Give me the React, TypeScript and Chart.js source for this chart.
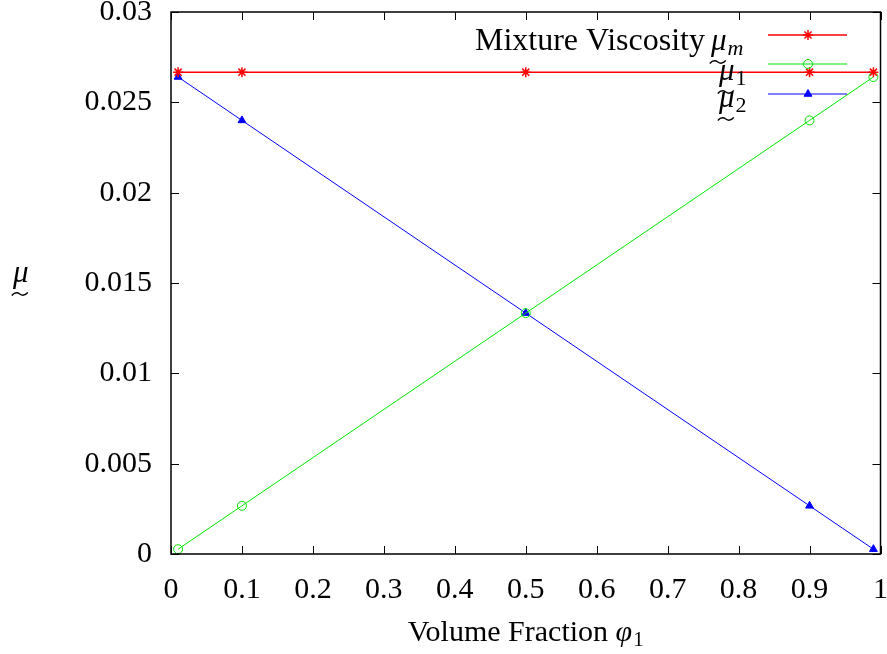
import React, { useEffect, useRef } from "react";
import { Chart, registerables } from "chart.js";
import { drawPoint } from "chart.js/helpers";

Chart.register(...registerables);

// Volume fraction of phase 1
const phi = [0.01, 0.1, 0.5, 0.9, 0.99];
// Viscosities
const mixtureViscosity = [0.02667, 0.02667, 0.02667, 0.02667, 0.02667];
const mu1 = [0.000267, 0.002667, 0.013333, 0.024, 0.026403];
const mu2 = [0.026403, 0.024, 0.013333, 0.002667, 0.000267];

const xTicks = [0, 0.1, 0.2, 0.3, 0.4, 0.5, 0.6, 0.7, 0.8, 0.9, 1];
const yTicks = [0, 0.005, 0.01, 0.015, 0.02, 0.025, 0.03];

const SERIF = "'Liberation Serif', 'Times New Roman', serif";
const RED = "#ff0000";
const GREEN = "#00e600";
const BLUE = "#0000ff";

function drawTilde(ctx: CanvasRenderingContext2D, cx: number, cy: number, w: number) {
  const x0 = cx - w / 2;
  const x1 = cx + w / 2;
  ctx.save();
  ctx.strokeStyle = "#000";
  ctx.lineWidth = 1.4;
  ctx.beginPath();
  ctx.moveTo(x0, cy + 1.5);
  ctx.quadraticCurveTo(x0 + w / 4, cy - 3, cx, cy);
  ctx.quadraticCurveTo(x1 - w / 4, cy + 3, x1, cy - 1.5);
  ctx.stroke();
  ctx.restore();
}

// Italic mu with tilde underneath and a subscript
function drawMu(ctx: CanvasRenderingContext2D, x: number, baseline: number, sub: string) {
  ctx.save();
  ctx.fillStyle = "#000";
  ctx.textAlign = "left";
  ctx.textBaseline = "alphabetic";
  ctx.font = `italic 31px ${SERIF}`;
  ctx.fillText("μ", x, baseline);
  const w = ctx.measureText("μ").width;
  drawTilde(ctx, x + w / 2 - 1, baseline + 12, 16);
  if (sub) {
    const isNum = /\d/.test(sub);
    ctx.font = `${isNum ? "" : "italic "}22px ${SERIF}`;
    ctx.fillText(sub, x + w + 1, baseline + 5);
  }
  ctx.restore();
}

const frameAndLabels = {
  id: "frameAndLabels",
  afterDatasetsDraw(chart: any) {
    const ctx: CanvasRenderingContext2D = chart.ctx;
    const { left, right, top, bottom } = chart.chartArea;
    const xs = chart.scales.x;
    const ys = chart.scales.y;
    ctx.save();
    ctx.strokeStyle = "#000";
    ctx.lineWidth = 1.5;
    ctx.strokeRect(left, top, right - left, bottom - top);
    ctx.lineWidth = 1;
    ctx.beginPath();
    const tl = 8;
    xTicks.forEach((v) => {
      const px = Math.round(xs.getPixelForValue(v)) + 0.5;
      ctx.moveTo(px, bottom);
      ctx.lineTo(px, bottom - tl);
      ctx.moveTo(px, top);
      ctx.lineTo(px, top + tl);
    });
    yTicks.forEach((v) => {
      const py = Math.round(ys.getPixelForValue(v)) + 0.5;
      ctx.moveTo(left, py);
      ctx.lineTo(left + tl, py);
      ctx.moveTo(right, py);
      ctx.lineTo(right - tl, py);
    });
    ctx.stroke();

    // Legend
    const legendLabels = ["Mixture Viscosity", "", ""];
    const legendSubs = ["m", "1", "2"];
    const lineY = [35, 64, 94];
    const textBase = [50, 80, 107];
    chart.data.datasets.forEach((ds: any, i: number) => {
      ctx.save();
      ctx.strokeStyle = ds.borderColor;
      ctx.lineWidth = ds.borderWidth;
      ctx.beginPath();
      ctx.moveTo(768, lineY[i]);
      ctx.lineTo(847, lineY[i]);
      ctx.stroke();
      ctx.strokeStyle = ds.pointBorderColor;
      ctx.fillStyle = ds.pointBackgroundColor;
      ctx.lineWidth = ds.pointBorderWidth;
      drawPoint(ctx, { pointStyle: ds.pointStyle, radius: ds.pointRadius, rotation: 0, borderWidth: ds.pointBorderWidth }, 808, lineY[i]);
      ctx.restore();
      if (legendLabels[i]) {
        ctx.save();
        ctx.font = `32px ${SERIF}`;
        ctx.fillStyle = "#000";
        ctx.textAlign = "right";
        ctx.fillText(legendLabels[i], 705, textBase[i]);
        ctx.restore();
        drawMu(ctx, 711, textBase[i], legendSubs[i]);
      } else {
        drawMu(ctx, 719, textBase[i], legendSubs[i]);
      }
    });

    // y-axis title
    drawMu(ctx, 13, 282, "");

    // x-axis title
    ctx.font = `30px ${SERIF}`;
    ctx.fillStyle = "#000";
    ctx.textAlign = "left";
    const part1 = "Volume Fraction ";
    const w1 = ctx.measureText(part1).width;
    ctx.font = `italic 30px ${SERIF}`;
    const w2 = ctx.measureText("φ").width;
    ctx.font = `21px ${SERIF}`;
    const w3 = ctx.measureText("1").width;
    const total = w1 + w2 + w3 + 1;
    const x0 = (left + right) / 2 - total / 2;
    const base = 641;
    ctx.font = `30px ${SERIF}`;
    ctx.fillText(part1, x0, base);
    ctx.font = `italic 30px ${SERIF}`;
    ctx.fillText("φ", x0 + w1, base);
    ctx.font = `21px ${SERIF}`;
    ctx.fillText("1", x0 + w1 + w2 + 1, base + 5);
    ctx.restore();
  },
};

function fmt(v: number, digits: number) {
  return String(parseFloat(v.toFixed(digits)));
}

function noOverhang(s: any) {
  s.paddingLeft = 0;
  s.paddingRight = 0;
  s.paddingTop = 0;
  s.paddingBottom = 0;
}

export default function App() {
  const ref = useRef<HTMLCanvasElement | null>(null);
  useEffect(() => {
    document.body.style.margin = "0";
    const canvas = ref.current;
    if (!canvas) return;
    const toXY = (ys: number[]) => ys.map((y, i) => ({ x: phi[i], y }));
    const chart = new Chart(canvas, {
      type: "line",
      data: {
        datasets: [
          {
            label: "Mixture Viscosity",
            data: toXY(mixtureViscosity),
            borderColor: RED,
            borderWidth: 1.5,
            pointStyle: "star",
            pointRadius: 5,
            pointBorderColor: RED,
            pointBackgroundColor: RED,
            pointBorderWidth: 1.5,
          },
          {
            label: "mu1",
            data: toXY(mu1),
            borderColor: GREEN,
            borderWidth: 1,
            pointStyle: "circle",
            pointRadius: 4.5,
            pointBorderColor: GREEN,
            pointBackgroundColor: "rgba(0,0,0,0)",
            pointBorderWidth: 1,
          },
          {
            label: "mu2",
            data: toXY(mu2),
            borderColor: BLUE,
            borderWidth: 1,
            pointStyle: "triangle",
            pointRadius: 4.5,
            pointBorderColor: BLUE,
            pointBackgroundColor: BLUE,
            pointBorderWidth: 1,
          },
        ] as any,
      },
      options: {
        animation: false,
        responsive: false,
        events: [],
        layout: { padding: { top: 12, right: 5, left: 0, bottom: 0 } },
        elements: { line: { tension: 0 } },
        plugins: { legend: { display: false }, tooltip: { enabled: false } },
        scales: {
          x: {
            type: "linear",
            min: 0,
            max: 1,
            afterFit: (s: any) => {
              s.height = 100;
              noOverhang(s);
            },
            afterBuildTicks: (s: any) => {
              s.ticks = xTicks.map((v) => ({ value: v }));
            },
            grid: { display: false, drawTicks: false },
            border: { display: false },
            ticks: {
              padding: 18,
              color: "#000",
              font: { family: SERIF, size: 30 },
              callback: (v: any) => fmt(Number(v), 1),
              maxRotation: 0,
              autoSkip: false,
            },
          },
          y: {
            type: "linear",
            min: 0,
            max: 0.03,
            afterFit: (s: any) => {
              s.width = 171;
              noOverhang(s);
            },
            afterBuildTicks: (s: any) => {
              s.ticks = yTicks.map((v) => ({ value: v }));
            },
            grid: { display: false, drawTicks: false },
            border: { display: false },
            ticks: {
              padding: 19,
              color: "#000",
              font: { family: SERIF, size: 30 },
              callback: (v: any) => fmt(Number(v), 3),
              autoSkip: false,
            },
          },
        },
      },
      plugins: [frameAndLabels],
    });
    return () => chart.destroy();
  }, []);
  return <canvas ref={ref} width={887} height={654} style={{ display: "block" }} />;
}
